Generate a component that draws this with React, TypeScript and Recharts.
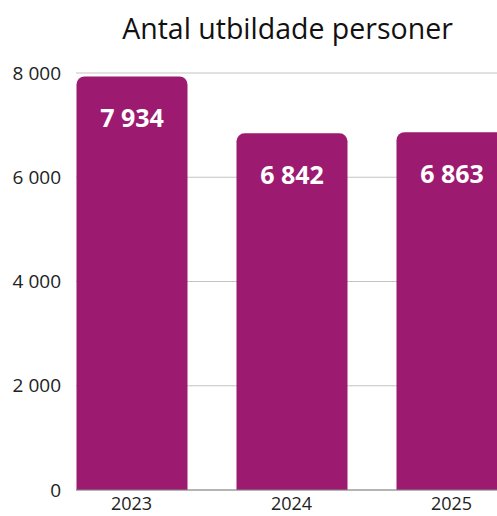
import { BarChart, Bar, XAxis, YAxis, CartesianGrid, LabelList } from "recharts"

const years = ["2023", "2024", "2025"]
const trained = [7934, 6842, 6863]
const yTicks = [0, 2000, 4000, 6000, 8000]

const data = years.map((year, i) => ({ year, value: trained[i] }))

const BAR_COLOR = "#9c1b70"
const FONT = "'Open Sans', sans-serif"

const fmt = (v: number) => String(v).replace(/\B(?=(\d{3})+(?!\d))/g, " ")

export default function App() {
  return (
    <div
      style={{
        position: "fixed",
        left: 0,
        top: 0,
        width: 497,
        height: 516,
        overflow: "hidden",
        background: "#fff",
        fontFamily: FONT,
      }}
    >
      <div
        style={{
          position: "absolute",
          top: 9,
          left: 0,
          width: 575,
          textAlign: "center",
          fontSize: 28.5,
          color: "#111",
        }}
      >
        Antal utbildade personer
      </div>
      <div style={{ position: "absolute", left: 0, top: 0 }}>
        <BarChart
          width={520}
          height={516}
          data={data}
          margin={{ top: 73, right: 13, left: 0, bottom: 0 }}
        >
          <CartesianGrid vertical={false} stroke="#c4c4c4" />
          <XAxis
            dataKey="year"
            height={26}
            padding={{ left: -24.5, right: -24.5 }}
            tickSize={0}
            tickMargin={7}
            axisLine={{ stroke: "#888" }}
            tickLine={false}
            tick={{ fontSize: 18, fill: "#222", fontFamily: FONT }}
          />
          <YAxis
            width={76}
            domain={[0, 8000]}
            ticks={yTicks}
            tickFormatter={fmt}
            tickSize={0}
            tickMargin={15}
            axisLine={false}
            tickLine={false}
            tick={{ fontSize: 19, fill: "#222", fontFamily: FONT }}
          />
          <Bar
            dataKey="value"
            fill={BAR_COLOR}
            barSize={111}
            radius={[8, 8, 0, 0]}
            isAnimationActive={false}
          >
            <LabelList
              dataKey="value"
              position="insideTop"
              offset={33}
              formatter={(v: any) => fmt(Number(v))}
              style={{ fill: "#fff", fontSize: 25, fontWeight: 700, fontFamily: FONT }}
            />
          </Bar>
        </BarChart>
      </div>
    </div>
  )
}
